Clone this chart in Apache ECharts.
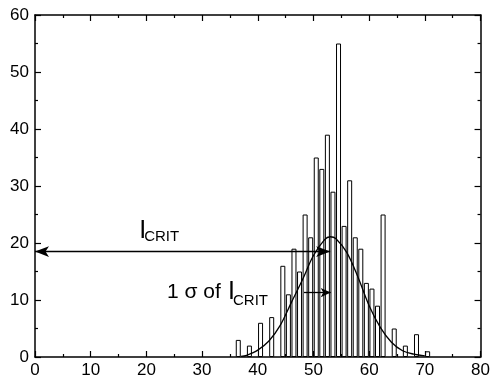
<!DOCTYPE html>
<html>
<head>
<meta charset="utf-8">
<script src="https://cdn.jsdelivr.net/npm/echarts@6/dist/echarts.min.js"></script>
<style>
html,body{margin:0;padding:0;background:#fff;}
#c{width:493px;height:381px;}
</style>
</head>
<body>
<div id="c"></div>
<script>
// Histogram bins (left edge of each 1-unit bin) and counts
var binStarts = [36, 38, 40, 42, 44, 45, 46, 47, 48, 49, 50, 51, 52, 53, 54, 55, 56, 57, 58, 59, 60, 61, 62, 64, 66, 68, 70];
var counts    = [ 3,  2,  6,  7, 16, 11, 19, 15, 25, 21, 35, 33, 39, 29, 55, 23, 31, 21, 19, 13, 12,  9, 25,  5,  2,  4,  1];
// Fitted curve
var curveX = [37, 38, 40, 42, 44, 46, 48, 50, 52, 53, 54, 56, 58, 60, 62, 64, 66, 68, 70];
var curveY = [0.1, 0.3, 1.2, 2.8, 5.5, 9.5, 13.5, 17.8, 20.6, 21.1, 20.8, 18.3, 14, 9, 5.2, 2.6, 1.1, 0.5, 0.2];
// Arrows
var icritArrow = [[0, 18.5], [53, 18.5]];
var sigmaArrow = [[48.3, 11.3], [53.1, 11.3]];
// Axis ranges
var xMax = 80, yMax = 60, tickStep = 10;

var barData = binStarts.map(function (b, i) { return [b + 0.5, counts[i]]; });
var curveData = curveX.map(function (x, i) { return [x, curveY[i]]; });

var chart = echarts.init(document.getElementById('c'));
var font = 'Liberation Sans, Arial, sans-serif';
function axis(type, max, position, showLabel) {
  return {
    type: 'value', min: 0, max: max, interval: tickStep, position: position,
    axisLine: { show: true, onZero: false, lineStyle: { color: '#000', width: 1.5 } },
    axisTick: { show: true, inside: true, length: 6, lineStyle: { color: '#000', width: 1.2 } },
    minorTick: { show: true, splitNumber: 2, length: 3, lineStyle: { color: '#000', width: 1.2 } },
    splitLine: { show: false },
    minorSplitLine: { show: false },
    axisLabel: showLabel ? { show: true, margin: type === 'x' ? 5 : 6, color: '#000', fontFamily: font, fontSize: 17 } : { show: false }
  };
}

chart.setOption({
  animation: false,
  backgroundColor: '#fff',
  grid: { left: 35, right: 9, top: 15, bottom: 24, containLabel: false },
  xAxis: [axis('x', xMax, 'bottom', true), axis('x', xMax, 'top', false)],
  yAxis: [axis('y', yMax, 'left', true), axis('y', yMax, 'right', false)],
  series: [
    {
      type: 'bar',
      data: barData,
      barWidth: 5,
      itemStyle: { color: '#fff', borderColor: '#000', borderWidth: 1 },
      z: 2
    },
    {
      type: 'line',
      data: curveData,
      smooth: 0.35,
      showSymbol: false,
      symbol: 'none',
      lineStyle: { color: '#000', width: 1.3 },
      z: 3
    },
    {
      type: 'line',
      data: [],
      z: 4,
      markLine: {
        silent: true,
        symbol: ['arrow', 'arrow'],
        symbolSize: [8, 14],
        label: { show: false },
        lineStyle: { color: '#000', width: 1.3, type: 'solid' },
        data: [[{ coord: icritArrow[0] }, { coord: icritArrow[1] }]]
      }
    },
    {
      type: 'line',
      data: [],
      z: 4,
      markLine: {
        silent: true,
        symbol: ['none', 'arrow'],
        symbolSize: [7, 10],
        label: { show: false },
        lineStyle: { color: '#000', width: 1.3, type: 'solid' },
        data: [[{ coord: sigmaArrow[0] }, { coord: sigmaArrow[1] }]]
      }
    }
  ]
});

// Annotation texts anchored in data coordinates
function px(x, y) { return chart.convertToPixel({ xAxisIndex: 0, yAxisIndex: 0 }, [x, y]); }
var a1 = px(18.7, 22.0);
var a2 = px(23.7, 11.4);
chart.setOption({
  graphic: [
    { type: 'text', x: a1[0], y: a1[1], style: { text: 'I', font: '25px ' + font, fill: '#000', verticalAlign: 'middle' } },
    { type: 'text', x: a1[0] + 5, y: a1[1] + 5, style: { text: 'CRIT', font: '15px ' + font, fill: '#000', verticalAlign: 'middle' } },
    { type: 'text', x: a2[0], y: a2[1], style: { text: '1 σ of', font: '21px ' + font, fill: '#000', verticalAlign: 'middle' } },
    { type: 'text', x: a2[0] + 61, y: a2[1], style: { text: 'I', font: '25px ' + font, fill: '#000', verticalAlign: 'middle' } },
    { type: 'text', x: a2[0] + 66, y: a2[1] + 9, style: { text: 'CRIT', font: '15px ' + font, fill: '#000', verticalAlign: 'middle' } }
  ]
});
</script>
</body>
</html>
